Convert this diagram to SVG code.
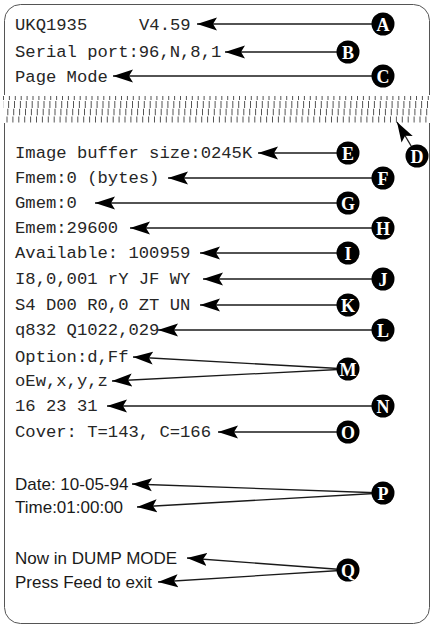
<svg xmlns="http://www.w3.org/2000/svg" width="431" height="626" viewBox="0 0 431 626">
<style>
.mono{font-family:"Liberation Mono","DejaVu Sans Mono",monospace;font-size:17.2px;fill:#262626}
.sans{font-family:"Liberation Sans",Arial,sans-serif;font-size:17px;fill:#1a1a1a}
.lbl{font-family:"Liberation Serif","Times New Roman",serif;font-weight:bold;font-size:18px;fill:#fff;text-anchor:middle}
.dot{fill:#000}
.conn line{stroke:#1a1a1a;stroke-width:1.3;marker-end:url(#ah)}
.perf line{stroke:#555;stroke-dasharray:1 4.9}
</style>
<defs>
<marker id="ah" viewBox="0 -7 20 14" refX="20" refY="0" markerWidth="20" markerHeight="14" markerUnits="userSpaceOnUse" orient="auto">
<path d="M0,-6.5 L20,0 L0,6.5 L4,0 Z" fill="#000"/>
</marker>
</defs>
<rect x="0" y="0" width="431" height="626" fill="#fff"/>
<rect id="paper" x="4.5" y="4.5" width="425" height="619" rx="16" ry="16" fill="#fff" stroke="#555" stroke-width="1"/>
<rect x="0" y="95" width="431" height="28" fill="#fff"/>
<g class="perf" id="perforation">
<line x1="3" y1="98" x2="431" y2="98" stroke-width="4" stroke-dashoffset="0"/>
<line x1="3" y1="104.5" x2="431" y2="104.5" stroke-width="7" stroke-dashoffset="0.8"/>
<line x1="3" y1="112" x2="431" y2="112" stroke-width="6.5" stroke-dashoffset="1.6"/>
<line x1="3" y1="119.5" x2="431" y2="119.5" stroke-width="6" stroke-dashoffset="2.4"/>
</g>
<g id="texts">
<text class="mono" x="15" y="30">UKQ1935<tspan x="139">V4.59</tspan></text>
<text class="mono" x="15" y="57">Serial port:96,N,8,1</text>
<text class="mono" x="15" y="82">Page Mode</text>
<text class="mono" x="15" y="158">Image buffer size:0245K</text>
<text class="mono" x="15" y="183">Fmem:0 (bytes)</text>
<text class="mono" x="15" y="208">Gmem:0</text>
<text class="mono" x="15" y="233">Emem:29600</text>
<text class="mono" x="15" y="258">Available: 100959</text>
<text class="mono" x="15" y="284">I8,0,001 rY JF WY</text>
<text class="mono" x="15" y="310">S4 D00 R0,0 ZT UN</text>
<text class="mono" x="15" y="335">q832 Q1022,029</text>
<text class="mono" x="15" y="362">Option:d,Ff</text>
<text class="mono" x="15" y="386">oEw,x,y,z</text>
<text class="mono" x="15" y="411">16 23 31</text>
<text class="mono" x="15" y="437">Cover: T=143, C=166</text>
<text class="sans" x="15" y="490">Date: 10-05-94</text>
<text class="sans" x="15" y="513">Time:01:00:00</text>
<text class="sans" x="15" y="564">Now in DUMP MODE</text>
<text class="sans" x="15" y="588">Press Feed to exit</text>
</g>
<g class="conn" id="connectors">
<line x1="383" y1="24" x2="197" y2="24"/>
<line x1="348" y1="52" x2="225" y2="52"/>
<line x1="383" y1="76" x2="113" y2="76"/>
<line x1="417" y1="156" x2="397" y2="122"/>
<line x1="348" y1="153" x2="258" y2="153"/>
<line x1="383" y1="178" x2="168" y2="178"/>
<line x1="348" y1="203" x2="95" y2="203"/>
<line x1="383" y1="228" x2="130" y2="228"/>
<line x1="348" y1="253" x2="200" y2="253"/>
<line x1="383" y1="279" x2="203" y2="279"/>
<line x1="348" y1="305" x2="200" y2="305"/>
<line x1="383" y1="330" x2="158" y2="330"/>
<line x1="348" y1="369" x2="133" y2="357"/>
<line x1="348" y1="369" x2="112" y2="381"/>
<line x1="383" y1="406" x2="107" y2="406"/>
<line x1="348" y1="432" x2="218" y2="432"/>
<line x1="383" y1="493" x2="132" y2="484"/>
<line x1="383" y1="493" x2="137" y2="507"/>
<line x1="348" y1="570" x2="187" y2="558"/>
<line x1="348" y1="570" x2="158" y2="582"/>
</g>
<g id="A"><circle class="dot" cx="383" cy="24" r="11.5"/><text class="lbl" x="383" y="30.5">A</text></g>
<g id="B"><circle class="dot" cx="348" cy="52" r="11.5"/><text class="lbl" x="348" y="58.5">B</text></g>
<g id="C"><circle class="dot" cx="383" cy="76" r="11.5"/><text class="lbl" x="383" y="82.5">C</text></g>
<g id="D"><circle class="dot" cx="417" cy="156" r="11.5"/><text class="lbl" x="417" y="162.5">D</text></g>
<g id="E"><circle class="dot" cx="348" cy="153" r="11.5"/><text class="lbl" x="348" y="159.5">E</text></g>
<g id="F"><circle class="dot" cx="383" cy="178" r="11.5"/><text class="lbl" x="383" y="184.5">F</text></g>
<g id="G"><circle class="dot" cx="348" cy="203" r="11.5"/><text class="lbl" x="348" y="209.5">G</text></g>
<g id="H"><circle class="dot" cx="383" cy="228" r="11.5"/><text class="lbl" x="383" y="234.5">H</text></g>
<g id="I"><circle class="dot" cx="348" cy="253" r="11.5"/><text class="lbl" x="348" y="259.5">I</text></g>
<g id="J"><circle class="dot" cx="383" cy="279" r="11.5"/><text class="lbl" x="383" y="285.5">J</text></g>
<g id="K"><circle class="dot" cx="348" cy="305" r="11.5"/><text class="lbl" x="348" y="311.5">K</text></g>
<g id="L"><circle class="dot" cx="383" cy="330" r="11.5"/><text class="lbl" x="383" y="336.5">L</text></g>
<g id="M"><circle class="dot" cx="348" cy="369" r="11.5"/><text class="lbl" x="348" y="375.5">M</text></g>
<g id="N"><circle class="dot" cx="383" cy="406" r="11.5"/><text class="lbl" x="383" y="412.5">N</text></g>
<g id="O"><circle class="dot" cx="348" cy="432" r="11.5"/><text class="lbl" x="348" y="438.5">O</text></g>
<g id="P"><circle class="dot" cx="383" cy="493" r="11.5"/><text class="lbl" x="383" y="499.5">P</text></g>
<g id="Q"><circle class="dot" cx="348" cy="570" r="11.5"/><text class="lbl" x="348" y="576.5">Q</text></g>
</svg>
